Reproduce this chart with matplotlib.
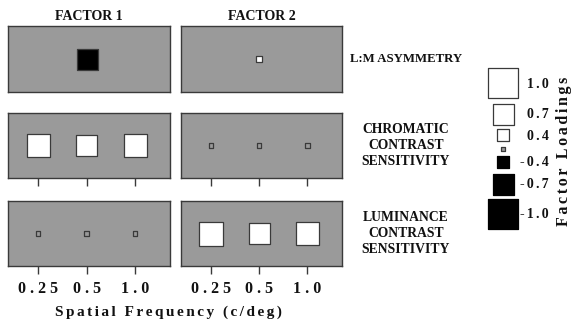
import numpy as np
import matplotlib
matplotlib.use('Agg')
import matplotlib.pyplot as plt

plt.rcParams['font.family'] = ['Liberation Serif', 'DejaVu Serif']
plt.rcParams['font.weight'] = 'bold'

# spatial frequencies (c/deg)
freqs = ['0.25', '0.5', '1.0']

# factor loadings
lm_f1 = [-0.70]
lm_f2 = [0.20]
chrom_f1 = [0.77, 0.70, 0.77]
chrom_f2 = [0.15, 0.15, 0.15]
lum_f1 = [0.15, 0.15, 0.15]
lum_f2 = [0.80, 0.70, 0.77]

row_names = ['L:M ASYMMETRY', 'CHROMATIC\nCONTRAST\nSENSITIVITY',
             'LUMINANCE\nCONTRAST\nSENSITIVITY']
col_names = ['FACTOR 1', 'FACTOR 2']

legend_vals = [1.0, 0.7, 0.4, 0.15, -0.4, -0.7, -1.0]
legend_labels = ['1.0', '0.7', '0.4', '', '-0.4', '-0.7', '-1.0']

W, H = 572, 321
BG = '#9a9a9a'
EDGE = '#3a3a3a'
INK = '#111111'
PX = 30.0  # square side in px for a loading of 1.0


def box(x0, y0, x1, y1):
    return [x0 / W, 1 - y1 / H, (x1 - x0) / W, (y1 - y0) / H]


def spaced(s, sep=' '):
    return sep.join(list(s))


def fills(vals):
    out = []
    for v in vals:
        if abs(v) < 0.2:
            out.append(BG)
        elif v > 0:
            out.append('white')
        else:
            out.append('black')
    return out


def sizes(vals):
    return [(PX * abs(v) * 0.72) ** 2 for v in vals]


fig = plt.figure(figsize=(W / 100, H / 100), dpi=100)

cols = [(8, 170), (181, 342)]
rows = [(26, 92), (113, 178), (201, 266)]
data = [[lm_f1, lm_f2], [chrom_f1, chrom_f2], [lum_f1, lum_f2]]

for r, (y0, y1) in enumerate(rows):
    for c, (x0, x1) in enumerate(cols):
        ax = fig.add_axes(box(x0, y0, x1, y1))
        ax.set_facecolor(BG)
        vals = data[r][c]
        xs = [1] if len(vals) == 1 else np.arange(len(vals))
        ax.scatter(xs, np.zeros(len(vals)), s=sizes(vals), marker='s',
                   c=fills(vals), edgecolors=EDGE, linewidths=0.9, zorder=3)
        ax.set_xlim(-0.62, 2.72)
        ax.set_ylim(-1, 1)
        ax.set_yticks([])
        for sp in ax.spines.values():
            sp.set_color(EDGE)
            sp.set_linewidth(1.0)
        if r == 0:
            ax.set_xticks([])
        else:
            ax.set_xticks(range(len(freqs)))
            ax.tick_params(axis='x', direction='out', length=6, width=1.0,
                           color=EDGE, pad=5)
            if r == 2:
                ax.set_xticklabels([spaced(f) for f in freqs], fontsize=11.5,
                                   fontweight='bold', color=INK)
            else:
                ax.set_xticklabels([])

# column titles
for (x0, x1), name in zip(cols, col_names):
    fig.text((x0 + x1) / 2 / W, 1 - 16 / H, name, ha='center', va='center',
             fontsize=10, fontweight='bold', color=INK)

# row titles
row_fs = [9.2, 9.8, 9.8]
for (y0, y1), name, fs in zip(rows, row_names, row_fs):
    fig.text(406 / W, 1 - (y0 + y1) / 2 / H, name, ha='center', va='center',
             fontsize=fs, fontweight='bold', color=INK, linespacing=1.3,
             multialignment='center')

fig.text(168 / W, 1 - 312 / H, spaced('Spatial Frequency (c/deg)', '\u2006'),
         ha='center', va='center', fontsize=11, fontweight='bold', color=INK)

# legend of square sizes
lax = fig.add_axes([0, 0, 1, 1])
lax.set_xlim(0, W)
lax.set_ylim(H, 0)
lax.axis('off')
lax.patch.set_alpha(0)
top = 68
for v, lab in zip(legend_vals, legend_labels):
    side = max(PX * abs(v), 5)
    yc = top + side / 2
    lax.scatter([503], [yc], s=sizes([v]), marker='s', c=fills([v]),
                edgecolors=EDGE if v > -0.2 else 'black', linewidths=0.9)
    if lab:
        lax.text(549, yc + 1, spaced(lab, '\u2006'), ha='right', va='center',
                 fontsize=10, fontweight='bold', color=INK)
    top += side + 5

lax.text(564, 151, spaced('Factor Loadings', '\u2006'), rotation=90,
         ha='center', va='center', fontsize=11.5, fontweight='bold', color=INK)

fig.savefig('out.png', dpi=100, facecolor='white')
